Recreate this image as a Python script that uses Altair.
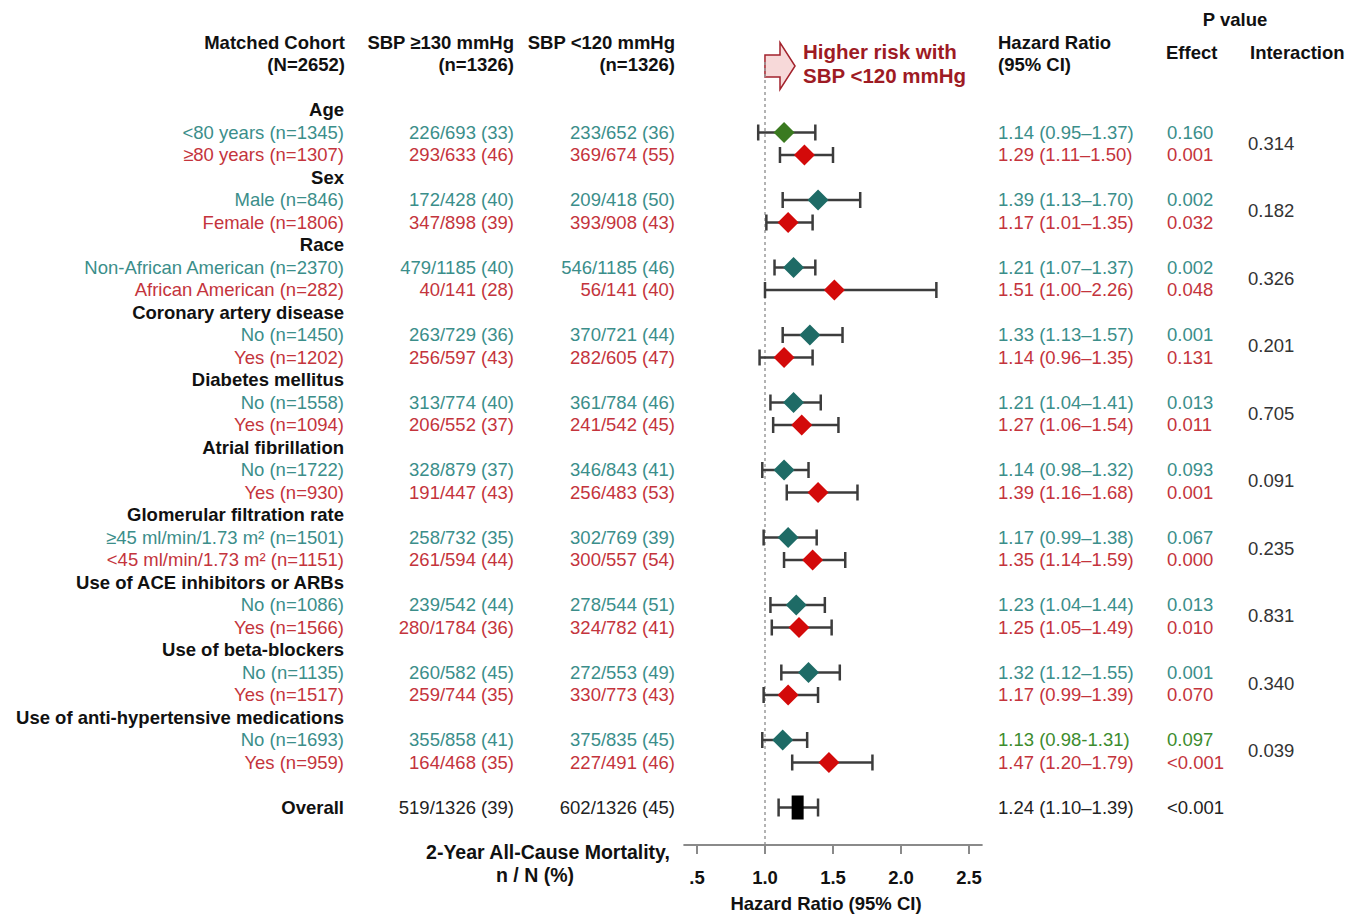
import altair as alt
import pandas as pd

# ---------------- data ----------------
group_names = ["Age", "Sex", "Race", "Coronary artery disease", "Diabetes mellitus",
               "Atrial fibrillation", "Glomerular filtration rate",
               "Use of ACE inhibitors or ARBs", "Use of beta-blockers",
               "Use of anti-hypertensive medications"]
subgroup_labels = ["<80 years (n=1345)", "≥80 years (n=1307)",
                   "Male (n=846)", "Female (n=1806)",
                   "Non-African American (n=2370)", "African American (n=282)",
                   "No (n=1450)", "Yes (n=1202)",
                   "No (n=1558)", "Yes (n=1094)",
                   "No (n=1722)", "Yes (n=930)",
                   "≥45 ml/min/1.73 m² (n=1501)", "<45 ml/min/1.73 m² (n=1151)",
                   "No (n=1086)", "Yes (n=1566)",
                   "No (n=1135)", "Yes (n=1517)",
                   "No (n=1693)", "Yes (n=959)"]
mort_sbp130 = ["226/693 (33)", "293/633 (46)", "172/428 (40)", "347/898 (39)",
               "479/1185 (40)", "40/141 (28)", "263/729 (36)", "256/597 (43)",
               "313/774 (40)", "206/552 (37)", "328/879 (37)", "191/447 (43)",
               "258/732 (35)", "261/594 (44)", "239/542 (44)", "280/1784 (36)",
               "260/582 (45)", "259/744 (35)", "355/858 (41)", "164/468 (35)"]
mort_sbp120 = ["233/652 (36)", "369/674 (55)", "209/418 (50)", "393/908 (43)",
               "546/1185 (46)", "56/141 (40)", "370/721 (44)", "282/605 (47)",
               "361/784 (46)", "241/542 (45)", "346/843 (41)", "256/483 (53)",
               "302/769 (39)", "300/557 (54)", "278/544 (51)", "324/782 (41)",
               "272/553 (49)", "330/773 (43)", "375/835 (45)", "227/491 (46)"]
hr = [1.14, 1.29, 1.39, 1.17, 1.21, 1.51, 1.33, 1.14, 1.21, 1.27,
      1.14, 1.39, 1.17, 1.35, 1.23, 1.25, 1.32, 1.17, 1.13, 1.47]
hr_lo = [0.95, 1.11, 1.13, 1.01, 1.07, 1.00, 1.13, 0.96, 1.04, 1.06,
         0.98, 1.16, 0.99, 1.14, 1.04, 1.05, 1.12, 0.99, 0.98, 1.20]
hr_hi = [1.37, 1.50, 1.70, 1.35, 1.37, 2.26, 1.57, 1.35, 1.41, 1.54,
         1.32, 1.68, 1.38, 1.59, 1.44, 1.49, 1.55, 1.39, 1.31, 1.79]
hr_text = ["1.14 (0.95–1.37)", "1.29 (1.11–1.50)", "1.39 (1.13–1.70)", "1.17 (1.01–1.35)",
           "1.21 (1.07–1.37)", "1.51 (1.00–2.26)", "1.33 (1.13–1.57)", "1.14 (0.96–1.35)",
           "1.21 (1.04–1.41)", "1.27 (1.06–1.54)", "1.14 (0.98–1.32)", "1.39 (1.16–1.68)",
           "1.17 (0.99–1.38)", "1.35 (1.14–1.59)", "1.23 (1.04–1.44)", "1.25 (1.05–1.49)",
           "1.32 (1.12–1.55)", "1.17 (0.99–1.39)", "1.13 (0.98-1.31)", "1.47 (1.20–1.79)"]
p_effect = ["0.160", "0.001", "0.002", "0.032", "0.002", "0.048", "0.001", "0.131",
            "0.013", "0.011", "0.093", "0.001", "0.067", "0.000", "0.013", "0.010",
            "0.001", "0.070", "0.097", "<0.001"]
p_interaction = ["0.314", "0.182", "0.326", "0.201", "0.705", "0.091", "0.235",
                 "0.831", "0.340", "0.039"]

overall_label = ["Overall"]
overall_sbp130 = ["519/1326 (39)"]
overall_sbp120 = ["602/1326 (45)"]
overall_hr = [1.24]
overall_lo = [1.10]
overall_hi = [1.39]
overall_hr_text = ["1.24 (1.10–1.39)"]
overall_p = ["<0.001"]

tick_values = [0.5, 1.0, 1.5, 2.0, 2.5]
tick_labels = [".5", "1.0", "1.5", "2.0", "2.5"]

# ---------------- tables ----------------
n_sub = len(subgroup_labels)
sub_idx = [3 * (k // 2) + 1 + (k % 2) for k in range(n_sub)]
text_tone = ["teal_t" if k % 2 == 0 else "red_t" for k in range(n_sub)]
hr_tone = list(text_tone)
hr_tone[18] = "green_t"
mark_tone = ["teal_m" if k % 2 == 0 else "red_m" for k in range(n_sub)]
mark_tone[0] = "green_m"

df_sub = pd.DataFrame({
    "idx": sub_idx, "label": subgroup_labels, "n130": mort_sbp130, "n120": mort_sbp120,
    "hr": hr, "lo": hr_lo, "hi": hr_hi, "hrt": hr_text, "p": p_effect,
    "tone": text_tone, "hrtone": hr_tone, "mtone": mark_tone,
})
df_grp = pd.DataFrame({"idx": [3 * g for g in range(len(group_names))], "name": group_names})
df_int = pd.DataFrame({"idx": [3 * g + 1.5 for g in range(len(p_interaction))], "p": p_interaction})
ov_idx = 3 * len(group_names) + 1
df_ov = pd.DataFrame({"idx": [ov_idx], "label": overall_label, "n130": overall_sbp130,
                      "n120": overall_sbp120, "hr": overall_hr, "lo": overall_lo,
                      "hi": overall_hi, "hrt": overall_hr_text, "p": overall_p})
df_ticks = pd.DataFrame({"v": tick_values, "lab": tick_labels})

# ---------------- scales ----------------
FONT = "Liberation Sans"
FS = 18.5
xs = alt.Scale(domain=[0.5, 2.5], range=[689, 961], nice=False, zero=False)
ys = alt.Scale(domain=[0, ov_idx], range=[102, 102 + 22.5 * ov_idx], nice=False, zero=False)
cs = alt.Scale(domain=["teal_t", "red_t", "green_t", "teal_m", "red_m", "green_m"],
               range=["#3b8e8a", "#c4343c", "#3d8c2e", "#1e6b66", "#d30a0a", "#3a7a20"])
Y = alt.Y("idx:Q", scale=ys, axis=None)


def X(field):
    return alt.X(field, type="quantitative", scale=xs, axis=None)


def note(text, x, y, align="left", bold=False, size=FS, color="#111111"):
    return alt.Chart(pd.DataFrame({"t": [text]})).mark_text(
        align=align, baseline="middle", font=FONT, fontSize=size,
        fontWeight="bold" if bold else "normal", color=color
    ).encode(x=alt.value(x), y=alt.value(y), text="t:N")


layers = []

# headers
layers += [
    note("Matched Cohort", 337, 35, "right", True),
    note("(N=2652)", 337, 57, "right", True),
    note("SBP ≥130 mmHg", 506, 35, "right", True),
    note("(n=1326)", 506, 57, "right", True),
    note("SBP <120 mmHg", 667, 35, "right", True),
    note("(n=1326)", 667, 57, "right", True),
    note("Hazard Ratio", 990, 35, "left", True),
    note("(95% CI)", 990, 57, "left", True),
    note("P value", 1227, 12, "center", True),
    note("Effect", 1158, 45, "left", True),
    note("Interaction", 1242, 45, "left", True),
    note("2-Year All-Cause Mortality,", 540, 845, "center", True, 19.5),
    note("n / N (%)", 527, 868, "center", True, 19.5),
    note("Hazard Ratio (95% CI)", 818, 896, "center", True),
    note("Higher risk with", 795, 45, "left", True, 20.5, "#9e1b24"),
    note("SBP <120 mmHg", 795, 69, "left", True, 20.5, "#9e1b24"),
]

# arrow
arrow = alt.Chart(pd.DataFrame({"a": [1]})).mark_point(
    shape="M-0.64,-0.47L0,-0.47L0,-1L0.64,0L0,1L0,0.47L-0.64,0.47Z",
    size=2209, filled=True, fill="#f7d9d9", stroke="#a3222c", strokeWidth=1.5, opacity=1
).encode(x=alt.value(772), y=alt.value(58))
layers.append(arrow)

# reference line at HR = 1
refline = alt.Chart(pd.DataFrame({"v": [1.0]})).mark_rule(
    color="#9a9a9a", strokeDash=[3, 3], strokeWidth=1.5
).encode(x=X("v"), y=alt.value(54), y2=alt.value(837))
layers.append(refline)

# group header labels
layers.append(alt.Chart(df_grp).mark_text(
    align="right", baseline="middle", font=FONT, fontSize=FS, fontWeight="bold", color="#111111"
).encode(x=alt.value(336), y=Y, text="name:N"))

sub = alt.Chart(df_sub)
for field, xpos, align, cfield in [("label", 336, "right", "tone"),
                                   ("n130", 506, "right", "tone"),
                                   ("n120", 667, "right", "tone"),
                                   ("hrt", 990, "left", "hrtone"),
                                   ("p", 1159, "left", "hrtone")]:
    layers.append(sub.mark_text(align=align, baseline="middle", font=FONT, fontSize=FS).encode(
        x=alt.value(xpos), y=Y, text=f"{field}:N",
        color=alt.Color(f"{cfield}:N", scale=cs, legend=None)))

# interaction p-values
layers.append(alt.Chart(df_int).mark_text(
    align="left", baseline="middle", font=FONT, fontSize=FS, color="#333333"
).encode(x=alt.value(1240), y=Y, text="p:N"))

# CI whiskers and diamonds
GREY = "#3c3c3c"
layers.append(sub.mark_rule(color=GREY, strokeWidth=2.5).encode(x=X("lo"), x2="hi:Q", y=Y))
layers.append(sub.mark_tick(orient="vertical", size=16, thickness=2.5, color=GREY, opacity=1)
              .encode(x=X("lo"), y=Y))
layers.append(sub.mark_tick(orient="vertical", size=16, thickness=2.5, color=GREY, opacity=1)
              .encode(x=X("hi"), y=Y))
layers.append(sub.mark_point(shape="diamond", filled=True, size=441, opacity=1).encode(
    x=X("hr"), y=Y, color=alt.Color("mtone:N", scale=cs, legend=None)))

# overall row
ov = alt.Chart(df_ov)
layers.append(ov.mark_text(align="right", baseline="middle", font=FONT, fontSize=FS,
                           fontWeight="bold", color="#111111").encode(x=alt.value(336), y=Y, text="label:N"))
for field, xpos, align in [("n130", 506, "right"), ("n120", 667, "right"),
                           ("hrt", 990, "left"), ("p", 1159, "left")]:
    layers.append(ov.mark_text(align=align, baseline="middle", font=FONT, fontSize=FS,
                               color="#222222").encode(x=alt.value(xpos), y=Y, text=f"{field}:N"))
layers.append(ov.mark_rule(color=GREY, strokeWidth=2.5).encode(x=X("lo"), x2="hi:Q", y=Y))
layers.append(ov.mark_tick(orient="vertical", size=18, thickness=2.5, color=GREY, opacity=1)
              .encode(x=X("lo"), y=Y))
layers.append(ov.mark_tick(orient="vertical", size=18, thickness=2.5, color=GREY, opacity=1)
              .encode(x=X("hi"), y=Y))
layers.append(ov.mark_tick(orient="vertical", size=24, thickness=12, color="#000000", opacity=1)
              .encode(x=X("hr"), y=Y))

# hand-drawn x axis
axis_line = alt.Chart(pd.DataFrame({"a": [0.4], "b": [2.6]})).mark_rule(
    color="#8a8a8a", strokeWidth=2).encode(x=X("a"), x2="b:Q", y=alt.value(837))
layers.append(axis_line)
ticks = alt.Chart(df_ticks)
layers.append(ticks.mark_rule(color="#8a8a8a", strokeWidth=2).encode(
    x=X("v"), y=alt.value(837), y2=alt.value(846)))
layers.append(ticks.mark_text(baseline="middle", align="center", font=FONT, fontSize=FS,
                              fontWeight="bold", color="#111111").encode(
    x=X("v"), y=alt.value(870), text="lab:N"))

chart = alt.layer(*layers).properties(
    width=1347, height=907, padding=0,
    autosize=alt.AutoSizeParams(type="none"),
    background="white",
).configure_view(strokeWidth=0)

chart.save("out.html", embed_options={"renderer": "svg", "actions": False})
